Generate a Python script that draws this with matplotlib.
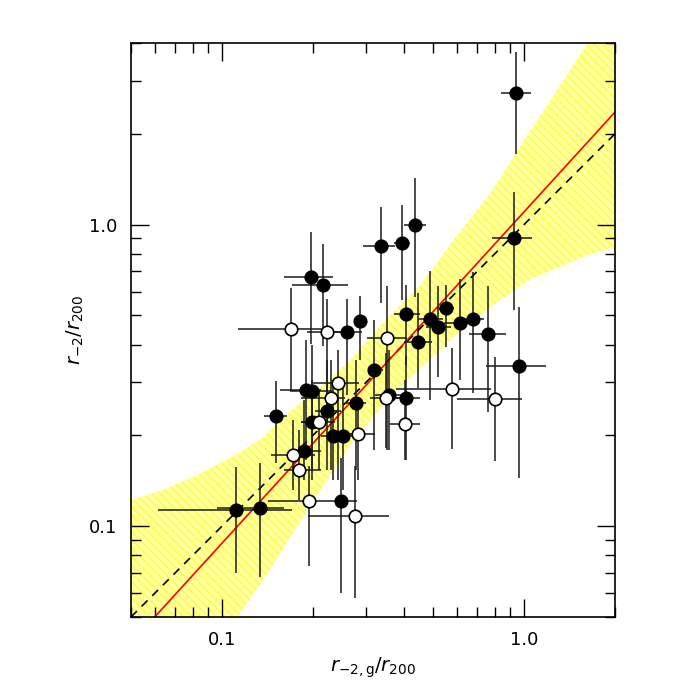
import numpy as np
import matplotlib
matplotlib.use('Agg')
import matplotlib.pyplot as plt

# filled symbols: x, x range, y, y range
xf = [0.943, 0.437, 0.335, 0.394, 0.926, 0.197, 0.216, 0.259, 0.286, 0.407, 0.551,
      0.490, 0.518, 0.613, 0.678, 0.760, 0.445, 0.960, 0.318, 0.357, 0.406, 0.278,
      0.190, 0.198, 0.151, 0.223, 0.199, 0.234, 0.251, 0.187, 0.111, 0.134, 0.247]
xf_lo = [0.837, 0.402, 0.294, 0.370, 0.785, 0.161, 0.170, 0.232, 0.276, 0.370, 0.516,
         0.447, 0.472, 0.543, 0.616, 0.657, 0.399, 0.746, 0.305, 0.322, 0.375, 0.256,
         0.156, 0.168, 0.138, 0.204, 0.182, 0.212, 0.229, 0.168, 0.0616, 0.096, 0.229]
xf_hi = [1.052, 0.474, 0.375, 0.418, 1.066, 0.233, 0.262, 0.291, 0.296, 0.454, 0.586,
         0.541, 0.571, 0.665, 0.736, 0.869, 0.497, 1.180, 0.342, 0.390, 0.454, 0.299,
         0.212, 0.229, 0.164, 0.247, 0.220, 0.256, 0.270, 0.212, 0.171, 0.160, 0.280]
yf = [2.737, 0.997, 0.849, 0.867, 0.903, 0.672, 0.630, 0.439, 0.479, 0.505, 0.530,
      0.486, 0.459, 0.471, 0.488, 0.433, 0.408, 0.341, 0.330, 0.273, 0.267, 0.257,
      0.282, 0.281, 0.232, 0.241, 0.221, 0.199, 0.199, 0.178, 0.113, 0.115, 0.121]
yf_lo = [1.711, 0.577, 0.551, 0.563, 0.521, 0.402, 0.397, 0.272, 0.356, 0.342, 0.393,
         0.262, 0.313, 0.305, 0.276, 0.240, 0.287, 0.145, 0.179, 0.179, 0.166, 0.154,
         0.166, 0.154, 0.162, 0.154, 0.142, 0.142, 0.132, 0.142, 0.070, 0.068, 0.060]
yf_hi = [3.745, 1.431, 1.147, 1.161, 1.280, 0.943, 0.862, 0.567, 0.580, 0.631, 0.631,
         0.704, 0.627, 0.659, 0.698, 0.626, 0.595, 0.534, 0.483, 0.384, 0.367, 0.356,
         0.414, 0.399, 0.303, 0.356, 0.305, 0.305, 0.305, 0.262, 0.157, 0.162, 0.168]

# open symbols
xo = [0.169, 0.223, 0.351, 0.578, 0.800, 0.348, 0.403, 0.242, 0.229, 0.210, 0.282,
      0.172, 0.180, 0.194, 0.275]
xo_lo = [0.113, 0.191, 0.302, 0.377, 0.601, 0.310, 0.361, 0.200, 0.182, 0.182, 0.250,
         0.145, 0.160, 0.142, 0.192]
xo_hi = [0.220, 0.260, 0.410, 0.775, 0.987, 0.390, 0.454, 0.284, 0.256, 0.237, 0.322,
         0.204, 0.212, 0.229, 0.358]
yo = [0.451, 0.442, 0.422, 0.285, 0.264, 0.266, 0.218, 0.298, 0.267, 0.222, 0.202,
      0.172, 0.154, 0.121, 0.108]
yo_lo = [0.281, 0.225, 0.179, 0.180, 0.164, 0.182, 0.166, 0.142, 0.154, 0.154, 0.142,
         0.132, 0.122, 0.074, 0.058]
yo_hi = [0.618, 0.566, 0.626, 0.391, 0.363, 0.375, 0.305, 0.384, 0.356, 0.283, 0.262,
         0.225, 0.208, 0.158, 0.158]

# shaded band edges
band_x = [0.05, 0.0638, 0.0828, 0.1123, 0.137, 0.1684, 0.2117, 0.2661, 0.353,
          0.4542, 0.5933, 0.775, 1.052, 1.625, 2.0]
band_hi = [0.1221, 0.1318, 0.1478, 0.1736, 0.1976, 0.241, 0.2894, 0.3557, 0.4902,
           0.6306, 0.9097, 1.273, 2.06, 4.0, 5.49]
band_lo = [0.0153, 0.0221, 0.0321, 0.05, 0.0663, 0.0921, 0.1318, 0.1859, 0.2622,
           0.3346, 0.4305, 0.5332, 0.6603, 0.7933, 0.843]

# best fit (red) and one-to-one (dashed)
fit_x = [0.05, 2.0]
fit_y = [0.041, 2.36]
one_x = [0.05, 2.0]
one_y = [0.05, 2.0]

plt.rcParams['hatch.linewidth'] = 1.2
plt.rcParams['mathtext.fontset'] = 'dejavusans'

fig = plt.figure(figsize=(7, 7), dpi=100)
ax = fig.add_axes([131 / 700, 83 / 700, 484 / 700, 574 / 700])
ax.set_xscale('log')
ax.set_yscale('log')

ax.fill_between(band_x, band_lo, band_hi, facecolor='#ffffa8', edgecolor='#ffff40',
                hatch='\\\\\\\\', linewidth=0, zorder=1)
ax.plot(one_x, one_y, color='black', ls=(0, (5, 4)), lw=1.2, zorder=2)
ax.plot(fit_x, fit_y, color='red', lw=1.2, zorder=2)


def draw(x, xlo, xhi, y, ylo, yhi, face):
    x = np.array(x); y = np.array(y)
    xerr = [x - np.array(xlo), np.array(xhi) - x]
    yerr = [y - np.array(ylo), np.array(yhi) - y]
    ax.errorbar(x, y, xerr=xerr, yerr=yerr, fmt='none', ecolor='#1a1a1a',
                elinewidth=1.1, capsize=0, zorder=3)
    ax.plot(x, y, 'o', ms=9, mfc=face, mec='black', mew=1.2, zorder=4)


draw(xf, xf_lo, xf_hi, yf, yf_lo, yf_hi, 'black')
draw(xo, xo_lo, xo_hi, yo, yo_lo, yo_hi, 'white')

ax.set_xlim(0.05, 2.0)
ax.set_ylim(0.05, 4.0)
ax.set_xticks([0.1, 1.0])
ax.set_xticklabels(['0.1', '1.0'])
ax.set_yticks([0.1, 1.0])
ax.set_yticklabels(['0.1', '1.0'])
ax.tick_params(which='both', direction='in', top=True, right=True, labelsize=13,
               width=1.0)
ax.tick_params(which='major', length=13, pad=10)
ax.tick_params(which='minor', length=7)
for s in ax.spines.values():
    s.set_linewidth(1.2)

ax.set_xlabel(r'$r_{-2,\mathrm{g}}/r_{200}$', fontsize=14, labelpad=5)
ax.set_ylabel(r'$r_{-2}/r_{200}$', fontsize=14, labelpad=2)

fig.savefig('out.png', dpi=100)
